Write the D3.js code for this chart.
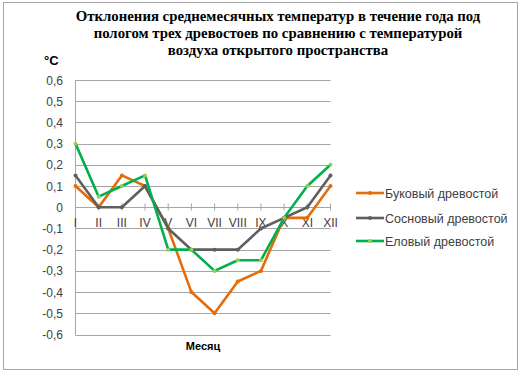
<!DOCTYPE html>
<html>
<head>
<meta charset="utf-8">
<script src="https://cdn.jsdelivr.net/npm/d3@7"></script>
<style>
  body { margin: 0; background: #fff; }
  svg { display: block; }
</style>
</head>
<body>
<svg id="chart" width="523" height="377"></svg>
<script>
const months = ['I', 'II', 'III', 'IV', 'V', 'VI', 'VII', 'VIII', 'IX', 'X', 'XI', 'XII'];
const bukovy = [0.1, 0, 0.15, 0.1, -0.1, -0.4, -0.5, -0.35, -0.3, -0.05, -0.05, 0.1];
const sosnovy = [0.15, 0, 0, 0.1, -0.1, -0.2, -0.2, -0.2, -0.1, -0.05, 0, 0.15];
const elovy = [0.3, 0.05, 0.1, 0.15, -0.2, -0.2, -0.3, -0.25, -0.25, -0.05, 0.1, 0.2];
const yTicks = [0.6, 0.5, 0.4, 0.3, 0.2, 0.1, 0, -0.1, -0.2, -0.3, -0.4, -0.5, -0.6];
const titleLines = [
  'Отклонения среднемесячных температур в течение года под',
  'пологом трех древостоев по сравнению с температурой',
  'воздуха открытого пространства'
];

const series = [
  { name: 'Буковый древостой', values: bukovy, color: '#E46C0A', marker: '#E46C0A' },
  { name: 'Сосновый древостой', values: sosnovy, color: '#5F5F5F', marker: '#5F5F5F' },
  { name: 'Еловый древостой', values: elovy, color: '#00B050', marker: '#92D050' }
];

const svg = d3.select('#chart');

// outer frame
svg.append('rect')
  .attr('x', 3.5).attr('y', 2.5)
  .attr('width', 514).attr('height', 367)
  .attr('fill', '#fff')
  .attr('stroke', '#a6a6a6');

const x = d3.scalePoint().domain(months).range([75.5, 330.5]);
const y = d3.scaleLinear().domain([-0.6, 0.6]).range([334.5, 80]);

const fmt = v => (v === 0 ? '0' : d3.format('.1f')(v).replace('.', ',').replace('−', '-'));

// gridlines
svg.append('g')
  .selectAll('line')
  .data(yTicks)
  .enter()
  .append('line')
  .attr('x1', 75.5).attr('x2', 330.5)
  .attr('y1', d => Math.round(y(d)) + 0.5)
  .attr('y2', d => Math.round(y(d)) + 0.5)
  .attr('stroke', '#a6a6a6')
  .attr('stroke-width', 1);

// y axis line
svg.append('line')
  .attr('x1', 75.5).attr('x2', 75.5)
  .attr('y1', 80).attr('y2', 335)
  .attr('stroke', '#a6a6a6');

// y tick labels
svg.append('g')
  .selectAll('text')
  .data(yTicks)
  .enter()
  .append('text')
  .attr('x', 63)
  .attr('y', d => y(d) + 4.5)
  .attr('text-anchor', 'end')
  .attr('font-family', 'Liberation Sans, Arial, sans-serif')
  .attr('font-size', 12)
  .attr('fill', '#404040')
  .text(fmt);

// x ticks on zero line
const y0 = Math.round(y(0)) + 0.5;
svg.append('g')
  .selectAll('line')
  .data(months)
  .enter()
  .append('line')
  .attr('x1', d => x(d)).attr('x2', d => x(d))
  .attr('y1', y0 - 4).attr('y2', y0 + 3)
  .attr('stroke', '#a6a6a6');

svg.append('g')
  .selectAll('text')
  .data(months)
  .enter()
  .append('text')
  .attr('x', d => x(d))
  .attr('y', y0 + 19)
  .attr('text-anchor', 'middle')
  .attr('font-family', 'Liberation Sans, Arial, sans-serif')
  .attr('font-size', 12)
  .attr('fill', '#404040')
  .text(d => d);

// lines
const line = d3.line()
  .x((d, i) => x(months[i]))
  .y(d => y(d));

series.forEach(s => {
  svg.append('path')
    .datum(s.values)
    .attr('d', line)
    .attr('fill', 'none')
    .attr('stroke', s.color)
    .attr('stroke-width', 2.6)
    .attr('stroke-linejoin', 'round');
  svg.append('g')
    .selectAll('circle')
    .data(s.values)
    .enter()
    .append('circle')
    .attr('cx', (d, i) => x(months[i]))
    .attr('cy', d => y(d))
    .attr('r', 2)
    .attr('fill', s.marker);
});

// title
svg.append('text')
  .attr('x', 278)
  .attr('font-family', 'Liberation Serif, Times New Roman, serif')
  .attr('font-weight', 'bold')
  .attr('font-size', 14.8)
  .attr('text-anchor', 'middle')
  .attr('fill', '#000')
  .selectAll('tspan')
  .data(titleLines)
  .enter()
  .append('tspan')
  .attr('x', 278)
  .attr('y', (d, i) => 21 + i * 17)
  .text(d => d);

// unit
svg.append('text')
  .attr('x', 44).attr('y', 65)
  .attr('font-family', 'Liberation Sans, Arial, sans-serif')
  .attr('font-weight', 'bold')
  .attr('font-size', 13)
  .attr('fill', '#000')
  .text('°C');

// axis title
svg.append('text')
  .attr('x', 203).attr('y', 350)
  .attr('text-anchor', 'middle')
  .attr('font-family', 'Liberation Sans, Arial, sans-serif')
  .attr('font-weight', 'bold')
  .attr('font-size', 11)
  .attr('fill', '#000')
  .text('Месяц');

// legend
const legendRows = [193, 218, 241];
const lg = svg.append('g')
  .selectAll('g')
  .data(series)
  .enter()
  .append('g')
  .attr('transform', (d, i) => `translate(356, ${legendRows[i]})`);

lg.append('line')
  .attr('x1', 0).attr('x2', 28)
  .attr('y1', 0).attr('y2', 0)
  .attr('stroke', d => d.color)
  .attr('stroke-width', 2.6);
lg.append('circle')
  .attr('cx', 14).attr('cy', 0).attr('r', 2)
  .attr('fill', d => d.marker);
lg.append('text')
  .attr('x', 29)
  .attr('y', 4.5)
  .attr('font-family', 'Liberation Sans, Arial, sans-serif')
  .attr('font-size', 12.5)
  .attr('fill', '#404040')
  .text(d => d.name);
</script>
</body>
</html>
